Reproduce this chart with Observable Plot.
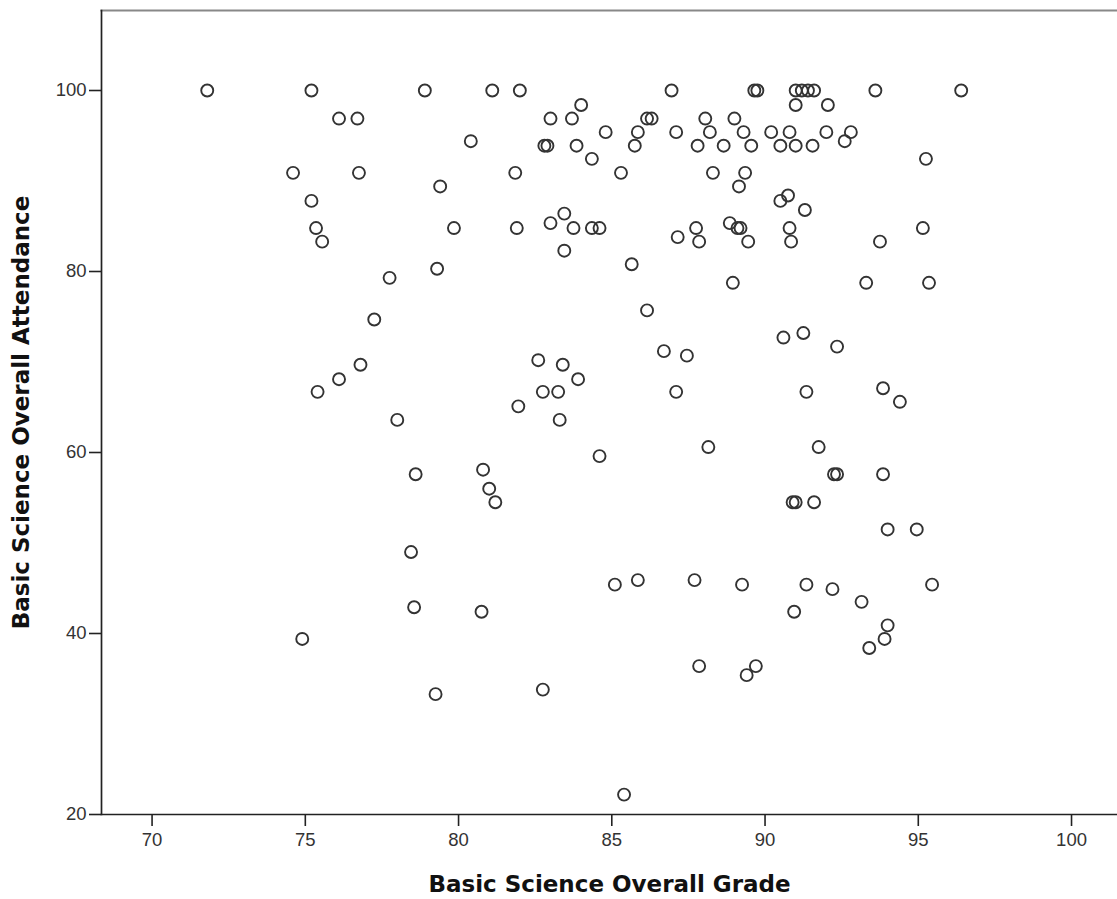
<!DOCTYPE html>
<html>
<head>
<meta charset="utf-8">
<script src="https://cdn.jsdelivr.net/npm/d3@7"></script>
<script src="https://cdn.jsdelivr.net/npm/@observablehq/plot@0.6"></script>
<style>
  html, body { margin: 0; padding: 0; background: #fff; }
  svg { display: block; }
</style>
</head>
<body>
<div id="chart"></div>
<script>
// Basic Science Overall Grade (x) and Basic Science Overall Attendance (y), one entry per student
const grade = [
  71.8, 75.2, 78.9, 81.1, 82.0, 86.95, 89.65, 89.75, 91.0, 91.2, 91.4, 91.6, 93.6, 96.4,
  84.0, 91.0, 92.05,
  76.1, 76.7, 83.0, 83.7, 86.15, 86.3, 88.05, 89.0,
  84.8, 85.85, 87.1, 88.2, 89.3, 90.2, 90.8, 92.0, 92.8,
  80.4, 92.6,
  82.8, 82.9, 83.85, 85.75, 87.8, 88.65, 89.55, 90.5, 91.0, 91.55,
  84.35, 95.25,
  74.6, 76.75, 81.85, 85.3, 88.3, 89.35,
  79.4, 89.15,
  90.75,
  75.2, 90.5,
  91.3,
  83.45,
  83.0, 88.85,
  75.35, 79.85, 81.9, 83.75, 84.35, 84.6, 87.75, 89.1, 89.2, 90.8, 95.15,
  87.15,
  75.55, 87.85, 89.45, 90.85, 93.75,
  83.45,
  85.65,
  79.3,
  77.75,
  88.95, 93.3, 95.35,
  86.15,
  77.25,
  91.25,
  90.6,
  92.35,
  86.7,
  87.45,
  82.6,
  76.8, 83.4,
  76.1, 83.9,
  93.85,
  75.4, 82.75, 83.25, 87.1, 91.35,
  94.4,
  81.95,
  78.0, 83.3,
  88.15, 91.75,
  84.6,
  80.8,
  78.6, 92.25, 92.35, 93.85,
  81.0,
  81.2, 90.9, 91.0, 91.6,
  94.0, 94.95,
  78.45,
  85.85, 87.7,
  85.1, 89.25, 91.35, 95.45,
  92.2,
  93.15,
  78.55,
  80.75, 90.95,
  94.0,
  74.9, 93.9,
  93.4,
  87.85, 89.7,
  89.4,
  82.75,
  79.25,
  85.4
];
const attendance = [
  100, 100, 100, 100, 100, 100, 100, 100, 100, 100, 100, 100, 100, 100,
  98.4, 98.4, 98.4,
  96.9, 96.9, 96.9, 96.9, 96.9, 96.9, 96.9, 96.9,
  95.4, 95.4, 95.4, 95.4, 95.4, 95.4, 95.4, 95.4, 95.4,
  94.4, 94.4,
  93.9, 93.9, 93.9, 93.9, 93.9, 93.9, 93.9, 93.9, 93.9, 93.9,
  92.45, 92.45,
  90.9, 90.9, 90.9, 90.9, 90.9, 90.9,
  89.4, 89.4,
  88.4,
  87.8, 87.8,
  86.8,
  86.4,
  85.35, 85.35,
  84.8, 84.8, 84.8, 84.8, 84.8, 84.8, 84.8, 84.8, 84.8, 84.8, 84.8,
  83.8,
  83.3, 83.3, 83.3, 83.3, 83.3,
  82.3,
  80.8,
  80.3,
  79.3,
  78.75, 78.75, 78.75,
  75.7,
  74.7,
  73.2,
  72.7,
  71.7,
  71.2,
  70.7,
  70.2,
  69.7, 69.7,
  68.1, 68.1,
  67.1,
  66.7, 66.7, 66.7, 66.7, 66.7,
  65.6,
  65.1,
  63.6, 63.6,
  60.6, 60.6,
  59.6,
  58.1,
  57.6, 57.6, 57.6, 57.6,
  56.0,
  54.5, 54.5, 54.5, 54.5,
  51.5, 51.5,
  49.0,
  45.9, 45.9,
  45.4, 45.4, 45.4, 45.4,
  44.9,
  43.5,
  42.9,
  42.4, 42.4,
  40.9,
  39.4, 39.4,
  38.4,
  36.4, 36.4,
  35.4,
  33.8,
  33.3,
  22.2
];
const xTicks = [70, 75, 80, 85, 90, 95, 100];
const yTicks = [20, 40, 60, 80, 100];
const xLabel = "Basic Science Overall Grade";
const yLabel = "Basic Science Overall Attendance";

const data = grade.map((g, i) => ({grade: g, attendance: attendance[i]}));

const tickFont = "'Liberation Sans', Arial, sans-serif";
const titleFont = "'DejaVu Sans', Verdana, sans-serif";

const chart = Plot.plot({
  width: 1117,
  height: 899,
  marginLeft: 101,
  marginRight: 0,
  marginTop: 10,
  marginBottom: 85,
  style: {background: "#fff", fontFamily: tickFont, color: "#222"},
  x: {domain: [68.35, 101.5]},
  y: {domain: [20, 108.84]},
  marks: [
    Plot.frame({anchor: "top", stroke: "#888", strokeWidth: 2.2}),
    Plot.frame({anchor: "left", stroke: "#222", strokeWidth: 1.7}),
    Plot.frame({anchor: "bottom", stroke: "#222", strokeWidth: 1.7}),
    Plot.dot(data, {x: "grade", y: "attendance", r: 6, stroke: "#333", strokeWidth: 1.9, fill: "none"}),
    Plot.axisX({ticks: xTicks, tickSize: 12, tickPadding: 6, tickFormat: d => String(d), fontSize: 18.5, fontFamily: tickFont, label: null, stroke: "#222", strokeWidth: 1.6, fill: "#333"}),
    Plot.axisX({ticks: [], tickSize: 0, label: xLabel, labelAnchor: "center", labelOffset: 77, labelArrow: "none", fontSize: 23, fontWeight: "bold", fontFamily: titleFont, fill: "#111"}),
    Plot.axisY({ticks: yTicks, tickSize: 12, tickPadding: 3, tickFormat: d => String(d), fontSize: 18.5, fontFamily: tickFont, label: null, stroke: "#222", strokeWidth: 1.6, fill: "#333"}),
    Plot.axisY({ticks: [], tickSize: 0, label: yLabel, labelAnchor: "center", labelOffset: 89, labelArrow: "none", fontSize: 23, fontWeight: "bold", fontFamily: titleFont, fill: "#111"})
  ]
});
document.getElementById("chart").append(chart);
</script>
</body>
</html>
